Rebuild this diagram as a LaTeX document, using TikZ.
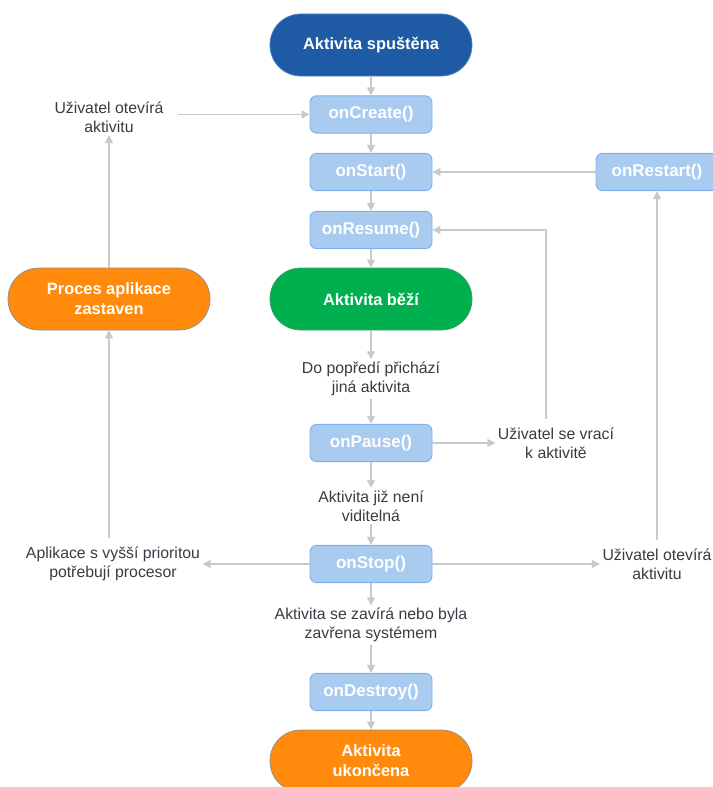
\documentclass[tikz,border=0pt]{standalone}
\usepackage{fontspec}
\setmainfont{Liberation Sans}
\usepackage{tikz}
\usetikzlibrary{calc}
\usetikzlibrary{arrows.meta}
\definecolor{startblue}{HTML}{1F5BA5}
\definecolor{startline}{HTML}{4F86C6}
\definecolor{rungreen}{HTML}{00B04F}
\definecolor{runline}{HTML}{3C9E6A}
\definecolor{endorange}{HTML}{FF8A0B}
\definecolor{endline}{HTML}{8A8F9A}
\definecolor{callfill}{HTML}{A9CBF0}
\definecolor{callline}{HTML}{7DB2EC}
\definecolor{notegray}{HTML}{3A3A44}
\definecolor{flowgray}{HTML}{C9C9C9}

\begin{document}
\begin{tikzpicture}[x=0.03cm, y=-0.03cm,
	state/.style={rectangle, rounded corners=0.92cm, minimum width=6.06cm, minimum height=1.86cm, text=white, align=center, line width=0.6pt, font=\fontsize{14}{17}\selectfont\bfseries},
	call/.style={rectangle, rounded corners=0.2cm, draw=callline, fill=callfill, minimum width=3.66cm, minimum height=1.12cm, text=white, line width=0.8pt, font=\fontsize{14.5}{17}\selectfont\bfseries},
	note/.style={text=notegray, align=center, inner sep=2pt, font=\fontsize{13.5}{16.5}\selectfont},
	flow/.style={draw=flowgray, line width=1.1pt, -{Triangle[length=0.24cm, width=0.24cm]}}]
		\useasboundingbox (0,0) rectangle (713,787);
		\clip (0,0) rectangle (713,787);

		\node[state, fill=startblue, draw=startline] (spustena) at (371,45) {Aktivita spuštěna};
		\node[call] (onCreate) at (371,114.5) {onCreate()};
		\node[call] (onStart) at (371,172) {onStart()};
		\node[call] (onResume) at (371,230) {onResume()};
		\node[state, fill=rungreen, draw=runline] (bezi) at (371,299) {Aktivita běží};
		\node[note] (popredi) at (371,379) {Do popředí přichází\\jiná aktivita};
		\node[call] (onPause) at (371,443) {onPause()};
		\node[note] (vraci) at (556,443) {Uživatel se vrací\\k aktivitě};
		\node[note] (neni) at (371,506) {Aktivita již není\\viditelná};
		\node[call] (onStop) at (371,564) {onStop()};
		\node[note] (zavira) at (371,625) {Aktivita se zavírá nebo byla\\zavřena systémem};
		\node[call] (onDestroy) at (371,692) {onDestroy()};
		\node[state, fill=endorange, draw=endline] (ukoncena) at (371,761) {Aktivita\\ukončena};

		\node[note] (otevira) at (109,117) {Uživatel otevírá\\aktivitu};
		\node[state, fill=endorange, draw=endline] (proces) at (109,299) {Proces aplikace\\zastaven};
		\node[note] (priorita) at (113,564) {Aplikace s vyšší prioritou\\potřebují procesor};
		\node[note] (otevira2) at (657,564) {Uživatel otevírá\\aktivitu};
		\node[call, minimum width=3.66cm] (onRestart) at (657,172) {onRestart()};

		\draw[flow] (spustena) -- (onCreate);
		\draw[flow] (onCreate) -- (onStart);
		\draw[flow] (onStart) -- (onResume);
		\draw[flow] (onResume) -- (bezi);
		\draw[flow] (bezi) -- (popredi);
		\draw[flow] (popredi) -- (onPause);
		\draw[flow] (onPause) -- (neni);
		\draw[flow] (neni) -- (onStop);
		\draw[flow] (onStop) -- (zavira);
		\draw[flow] (zavira) -- (onDestroy);
		\draw[flow] (onDestroy) -- (ukoncena);

		\draw[flow] (onPause) -- (vraci);
		\draw[flow] ($(vraci.north)+(-10,-6)$) |- (onResume);
		\draw[flow] ($(otevira.east |- onCreate)+(12,0)$) -- (onCreate);
		\draw[flow] (proces) -- (otevira);
		\draw[flow] (onStop) -- (priorita);
		\draw[flow] ($(proces |- priorita.north)+(0,-6)$) -- (proces);
		\draw[flow] (onStop) -- (otevira2);
		\draw[flow] ($(otevira2.north)+(0,-6)$) -- (onRestart);
		\draw[flow] (onRestart) -- (onStart);
\end{tikzpicture}
\end{document}
